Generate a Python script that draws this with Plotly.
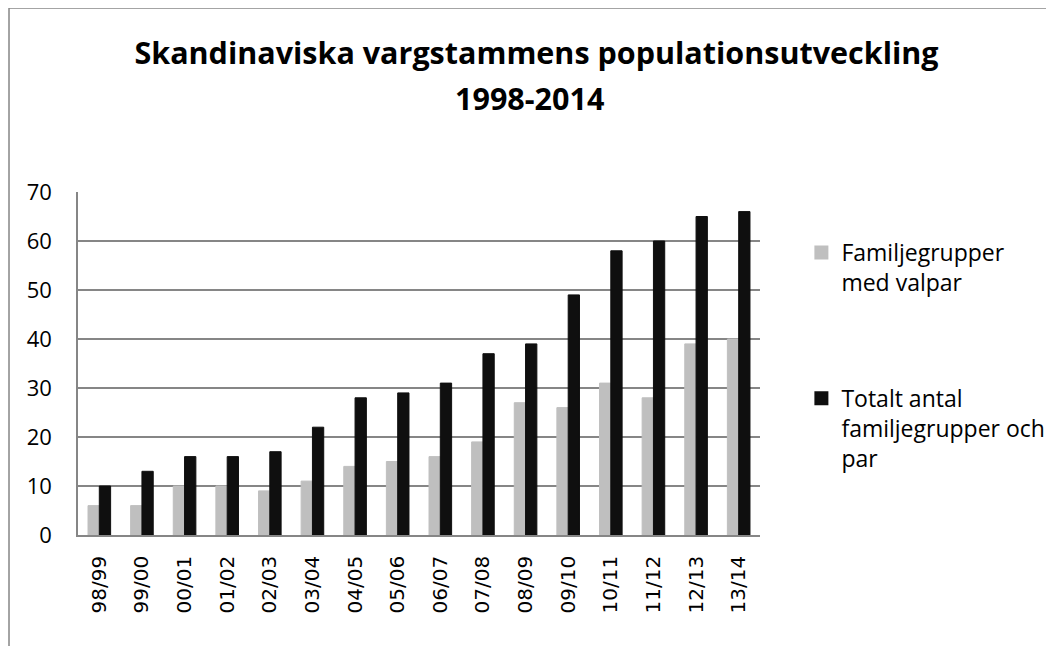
import plotly.graph_objects as go

categories = ["98/99", "99/00", "00/01", "01/02", "02/03", "03/04", "04/05", "05/06",
              "06/07", "07/08", "08/09", "09/10", "10/11", "11/12", "12/13", "13/14"]
familjegrupper_valpar = [6, 6, 10, 10, 9, 11, 14, 15, 16, 19, 27, 26, 31, 28, 39, 40]
totalt_antal = [10, 13, 16, 16, 17, 22, 28, 29, 31, 37, 39, 49, 58, 60, 65, 66]
series_names = ["Familjegrupper<br>med valpar", "Totalt antal<br>familjegrupper och<br>par"]
title_lines = ["Skandinaviska vargstammens populationsutveckling", "1998-2014"]

# page body has an 8px margin, so figure coordinates are picture coordinates minus 8
W, H = 1054, 646
L, R, T, B = 70, 762, 184, 527

fig = go.Figure()
fig.add_trace(go.Bar(x=categories, y=familjegrupper_valpar, name=series_names[0],
                     legendgroup="g1",
                     marker=dict(color="#BFBFBF", line=dict(width=1, color="#BFBFBF"))))
fig.add_trace(go.Bar(x=categories, y=totalt_antal, name=series_names[1],
                     legendgroup="g2",
                     marker=dict(color="#0F0F0F", line=dict(width=1, color="#0F0F0F"))))

def px_x(p):
    return (p - L) / (R - L)

def px_y(p):
    return (B - p) / (B - T)

title_font = dict(family="Open Sans", size=30.5, color="#000000", weight="bold")

fig.update_layout(
    width=W, height=H,
    margin=dict(l=L, r=W - R, t=T, b=H - B, pad=0),
    paper_bgcolor="white", plot_bgcolor="white",
    barmode="group", bargap=0.47, bargroupgap=0.0,
    font=dict(family="Open Sans", color="#000000"),
    title=dict(text=title_lines[0], x=528.5 / W, xanchor="center", y=1 - 45.5 / H,
               yanchor="middle", font=title_font),
    annotations=[dict(text=title_lines[1], xref="paper", yref="paper",
                      x=px_x(528.5), y=px_y(90), xanchor="center", yanchor="middle",
                      showarrow=False, font=title_font)],
    xaxis=dict(showgrid=False, showline=True, linecolor="#868686", linewidth=1.5,
               ticks="", tickangle=-90, tickfont=dict(family="DejaVu Sans", size=20, color="#000"),
               ticklabelstandoff=11),
    yaxis=dict(range=[0, 70], dtick=10, showgrid=True, gridcolor="#868686", gridwidth=1.5,
               showline=True, linecolor="#868686", linewidth=1.5, ticks="",
               tickfont=dict(family="Open Sans", size=22, color="#000"), ticklabelstandoff=20,
               zeroline=False),
    legend=dict(x=px_x(804), y=px_y(223), xanchor="left", yanchor="top",
                font=dict(family="Open Sans", size=23, color="#000"), valign="top",
                tracegroupgap=83, itemsizing="constant", bgcolor="rgba(0,0,0,0)"),
    shapes=[dict(type="rect", xref="paper", yref="paper",
                 x0=px_x(0), x1=px_x(1070), y0=px_y(670), y1=px_y(0),
                 line=dict(color="#868686", width=1.5), fillcolor="rgba(0,0,0,0)", layer="below")],
    showlegend=True,
)
fig.write_html("out.html")
